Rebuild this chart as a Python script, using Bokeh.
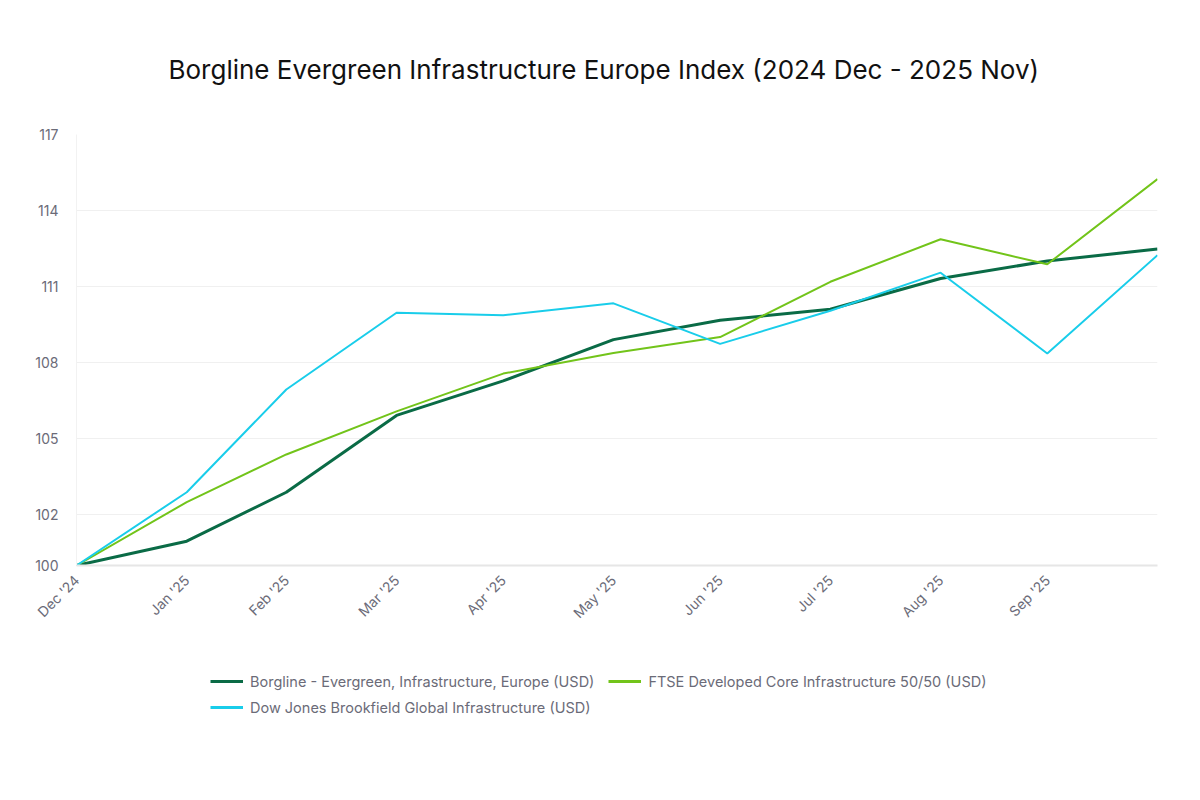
import math
import pandas as pd
from bokeh.plotting import figure
from bokeh.layouts import column
from bokeh.models import Range1d, FixedTicker, DatetimeTickFormatter, Legend
from bokeh.embed import file_html
from bokeh.resources import INLINE

# month-end observations
dates = ["2024-12-31", "2025-01-31", "2025-02-28", "2025-03-31", "2025-04-30", "2025-05-31",
         "2025-06-30", "2025-07-31", "2025-08-31", "2025-09-30", "2025-10-31"]
borgline = [100.0, 100.96, 102.89, 105.92, 107.28, 108.91, 109.67, 110.11, 111.32, 112.01, 112.48]
ftse = [100.0, 102.50, 104.38, 106.08, 107.57, 108.38, 109.01, 111.19, 112.87, 111.88, 115.24]
dow_jones = [100.0, 102.89, 106.94, 109.97, 109.87, 110.34, 108.74, 110.05, 111.55, 108.36, 112.24]
y_ticks = [100, 102, 105, 108, 111, 114, 117]

names = ["Borgline - Evergreen, Infrastructure, Europe (USD)",
         "FTSE Developed Core Infrastructure 50/50 (USD)",
         "Dow Jones Brookfield Global Infrastructure (USD)"]
colors = ["#0a6b46", "#72c41a", "#19cdea"]
widths = [3, 2, 2]

x = pd.to_datetime(dates)
series = [borgline, ftse, dow_jones]
FONT = "Inter"
GREY = "#6b6b78"

p = figure(x_axis_type="datetime", output_backend="svg", toolbar_location=None,
           width=1184, height=640,
           min_border_left=76, min_border_right=27, min_border_top=134, min_border_bottom=75,
           x_range=Range1d(x[0], x[-1]), y_range=Range1d(100, 117),
           title="Borgline Evergreen Infrastructure Europe Index (2024 Dec - 2025 Nov)")

p.title.align = "left"
p.title.offset = 92
p.title.text_font = FONT
p.title.text_font_size = "26px"
p.title.text_font_style = "normal"
p.title.text_color = "#111111"
p.title.standoff = 99

p.outline_line_color = None
p.xgrid.grid_line_color = None
p.ygrid.grid_line_color = "#f0f0f0"

p.yaxis.ticker = FixedTicker(ticks=y_ticks)
p.yaxis.axis_line_color = "#f2f2f2"
p.yaxis.major_tick_line_color = None
p.yaxis.minor_tick_line_color = None
p.yaxis.major_label_text_font = FONT
p.yaxis.major_label_text_font_size = "14px"
p.yaxis.major_label_text_color = GREY
p.yaxis.major_label_standoff = 12

tick_ms = [int(d.value // 10**6) for d in x[:-1]]
p.xaxis.ticker = FixedTicker(ticks=tick_ms)
fmt = "%b '%y"
p.xaxis.formatter = DatetimeTickFormatter(days=fmt, months=fmt, years=fmt, hours=fmt,
                                          minutes=fmt, seconds=fmt, milliseconds=fmt,
                                          microseconds=fmt, minsec=fmt, hourmin=fmt)
p.xaxis.axis_line_color = "#e6e6e6"
p.xaxis.axis_line_width = 2
p.xaxis.major_tick_line_color = None
p.xaxis.minor_tick_line_color = None
p.xaxis.major_label_orientation = math.pi / 4
p.xaxis.major_label_text_font = FONT
p.xaxis.major_label_text_font_size = "14px"
p.xaxis.major_label_text_color = GREY
p.xaxis.major_label_standoff = 6

for ys, c, w in zip(series, colors, widths):
    p.line(x, ys, line_color=c, line_width=w)

# legend lives in its own strip underneath the chart (its frame lines up with the chart's);
# the swatch lines carry the same data but fall outside this strip's ranges
lg = figure(x_axis_type="datetime", output_backend="svg", toolbar_location=None,
            width=1184, height=100, min_border=0, x_axis_location=None, y_axis_location=None,
            x_range=Range1d(0, 1), y_range=Range1d(0, 1))
lg.outline_line_color = None
lg.grid.visible = False
swatches = [lg.line(x, ys, line_color=c, line_width=3) for ys, c in zip(series, colors)]
items = [(n, [r]) for n, r in zip(names, swatches)]

legend_style = dict(orientation="horizontal", border_line_color=None, background_fill_alpha=0,
                    label_text_font=FONT, label_text_font_size="14.5px", label_text_color=GREY,
                    glyph_width=33, label_standoff=7, spacing=14, padding=0, margin=0)
lg.add_layout(Legend(items=items[:2], location=(134, 49), **legend_style))
lg.add_layout(Legend(items=items[2:], location=(134, 23), **legend_style))

open("out.html", "w").write(file_html(column(p, lg), INLINE))
